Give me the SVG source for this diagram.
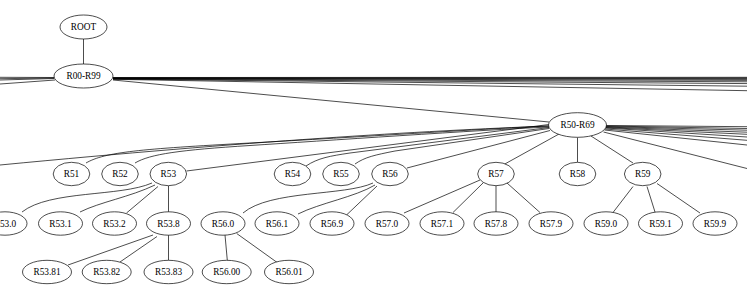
<svg xmlns="http://www.w3.org/2000/svg" width="747" height="295" viewBox="0 0 747 295">
<style>
.n ellipse{fill:#fff;stroke:#000;stroke-width:0.7}
.n text{font-family:"Liberation Serif","Times New Roman",serif;font-size:9.3px;text-anchor:middle;fill:#000}
#edges path{fill:none;stroke:#000;stroke-width:0.7}
</style>
<rect width="747" height="295" fill="#fff"/>
<g id="edges">
<path d="M83.5,39 L83.5,64"/>
<path d="M113,80 L549,122"/>
<path d="M113,77.5 L747,77.3"/>
<path d="M113,77.8 L747,77.9"/>
<path d="M113,78 L747,78.6"/>
<path d="M113,78.2 L747,79.4"/>
<path d="M113,78.4 L747,80.4"/>
<path d="M113,78.6 L747,81.8"/>
<path d="M113,78.8 L747,83.6"/>
<path d="M113,79 L747,86.2"/>
<path d="M113,79.3 L747,90.7"/>
<path d="M54,77.5 L0,77.3"/>
<path d="M54,78 L0,78.7"/>
<path d="M54,78.5 L0,80"/>
<path d="M55,80 L0,84"/>
<path d="M549,126 C420,131 250,141 0,165"/>
<path d="M86,163 C105,152 140,149 250,143 S480,129 549,126"/>
<path d="M135,163 C150,154 180,150 250,145.5 S480,130 549,127"/>
<path d="M186.5,171 L549,124.5"/>
<path d="M306,166 C318,158 330,156 350,153 L549,127.5"/>
<path d="M355,164 C365,157 375,155 395,151 L549,128.5"/>
<path d="M407,168 L550,130.5"/>
<path d="M503,165 L559,134"/>
<path d="M577.5,137.5 L577.5,162.3"/>
<path d="M591,136 L633,163"/>
<path d="M606,125.5 L747,126.7"/>
<path d="M606,126 L747,128.5"/>
<path d="M606,126.5 L747,130.2"/>
<path d="M606,127 L747,132.2"/>
<path d="M605.5,127.5 L747,134.3"/>
<path d="M605.5,128 L747,137"/>
<path d="M605,129 L747,140.3"/>
<path d="M604.5,130 L747,145"/>
<path d="M603.5,132 L747,168.5"/>
<path d="M152,183 C120,197 50,190 22,212"/>
<path d="M155,185 C130,197 100,202 80,212"/>
<path d="M158,186.5 L126.5,213"/>
<path d="M168.5,186 L168.5,212"/>
<path d="M153,235 L68,265"/>
<path d="M157,236.5 L120,262"/>
<path d="M168.5,235 L168.5,260.5"/>
<path d="M373,183 C345,196 270,190 243,213"/>
<path d="M375,185 C355,197 320,203 298,214"/>
<path d="M377,186 L346.5,215"/>
<path d="M225,235 L227.3,260.3"/>
<path d="M236.7,233.5 L278.3,263.3"/>
<path d="M480,180 L404,213"/>
<path d="M483,183 L453,212.5"/>
<path d="M496,186 L496,212"/>
<path d="M507,183 L540,212.5"/>
<path d="M633,186.5 L613,212.5"/>
<path d="M647,186.5 L655,212"/>
<path d="M657,183.5 L700,213"/>
</g>
<g id="ROOT" class="n"><ellipse cx="83.5" cy="27" rx="23.5" ry="12"/><text x="83.5" y="30.3">ROOT</text></g>
<g id="R00-R99" class="n"><ellipse cx="83.5" cy="76" rx="29.5" ry="12"/><text x="83.5" y="79.3">R00-R99</text></g>
<g id="R50-R69" class="n"><ellipse cx="577.5" cy="125" rx="29" ry="12.3"/><text x="577.5" y="128.3">R50-R69</text></g>
<g id="R51" class="n"><ellipse cx="71.5" cy="174" rx="18.3" ry="11.7"/><text x="71.5" y="177.3">R51</text></g>
<g id="R52" class="n"><ellipse cx="120" cy="174" rx="18.3" ry="11.7"/><text x="120" y="177.3">R52</text></g>
<g id="R53" class="n"><ellipse cx="168.3" cy="174" rx="18.3" ry="11.7"/><text x="168.3" y="177.3">R53</text></g>
<g id="R54" class="n"><ellipse cx="292.5" cy="174" rx="18.3" ry="11.7"/><text x="292.5" y="177.3">R54</text></g>
<g id="R55" class="n"><ellipse cx="341" cy="174" rx="18.3" ry="11.7"/><text x="341" y="177.3">R55</text></g>
<g id="R56" class="n"><ellipse cx="390" cy="174" rx="18.3" ry="11.7"/><text x="390" y="177.3">R56</text></g>
<g id="R57" class="n"><ellipse cx="496" cy="174" rx="18.3" ry="11.7"/><text x="496" y="177.3">R57</text></g>
<g id="R58" class="n"><ellipse cx="577.5" cy="174" rx="18.3" ry="11.7"/><text x="577.5" y="177.3">R58</text></g>
<g id="R59" class="n"><ellipse cx="642.7" cy="174" rx="18.3" ry="11.7"/><text x="642.7" y="177.3">R59</text></g>
<g id="R53.0" class="n"><ellipse cx="5" cy="223.5" rx="22" ry="11.7"/><text x="5" y="226.8">R53.0</text></g>
<g id="R53.1" class="n"><ellipse cx="60.5" cy="223.5" rx="22" ry="11.7"/><text x="60.5" y="226.8">R53.1</text></g>
<g id="R53.2" class="n"><ellipse cx="114.5" cy="223.5" rx="22" ry="11.7"/><text x="114.5" y="226.8">R53.2</text></g>
<g id="R53.8" class="n"><ellipse cx="168.5" cy="223.5" rx="22" ry="11.7"/><text x="168.5" y="226.8">R53.8</text></g>
<g id="R56.0" class="n"><ellipse cx="223" cy="223.5" rx="22" ry="11.7"/><text x="223" y="226.8">R56.0</text></g>
<g id="R56.1" class="n"><ellipse cx="277" cy="223.5" rx="22" ry="11.7"/><text x="277" y="226.8">R56.1</text></g>
<g id="R56.9" class="n"><ellipse cx="332" cy="223.5" rx="22" ry="11.7"/><text x="332" y="226.8">R56.9</text></g>
<g id="R57.0" class="n"><ellipse cx="387" cy="223.5" rx="22" ry="11.7"/><text x="387" y="226.8">R57.0</text></g>
<g id="R57.1" class="n"><ellipse cx="442" cy="223.5" rx="22" ry="11.7"/><text x="442" y="226.8">R57.1</text></g>
<g id="R57.8" class="n"><ellipse cx="496" cy="223.5" rx="22" ry="11.7"/><text x="496" y="226.8">R57.8</text></g>
<g id="R57.9" class="n"><ellipse cx="551" cy="223.5" rx="22" ry="11.7"/><text x="551" y="226.8">R57.9</text></g>
<g id="R59.0" class="n"><ellipse cx="606" cy="223.5" rx="22" ry="11.7"/><text x="606" y="226.8">R59.0</text></g>
<g id="R59.1" class="n"><ellipse cx="660.5" cy="223.5" rx="22" ry="11.7"/><text x="660.5" y="226.8">R59.1</text></g>
<g id="R59.9" class="n"><ellipse cx="715" cy="223.5" rx="22" ry="11.7"/><text x="715" y="226.8">R59.9</text></g>
<g id="R53.81" class="n"><ellipse cx="47" cy="272" rx="24.5" ry="11.7"/><text x="47" y="275.3">R53.81</text></g>
<g id="R53.82" class="n"><ellipse cx="106.7" cy="272" rx="24.5" ry="11.7"/><text x="106.7" y="275.3">R53.82</text></g>
<g id="R53.83" class="n"><ellipse cx="168.5" cy="272" rx="24.5" ry="11.7"/><text x="168.5" y="275.3">R53.83</text></g>
<g id="R56.00" class="n"><ellipse cx="226.7" cy="272" rx="24.5" ry="11.7"/><text x="226.7" y="275.3">R56.00</text></g>
<g id="R56.01" class="n"><ellipse cx="289" cy="272" rx="24.5" ry="11.7"/><text x="289" y="275.3">R56.01</text></g>
</svg>
